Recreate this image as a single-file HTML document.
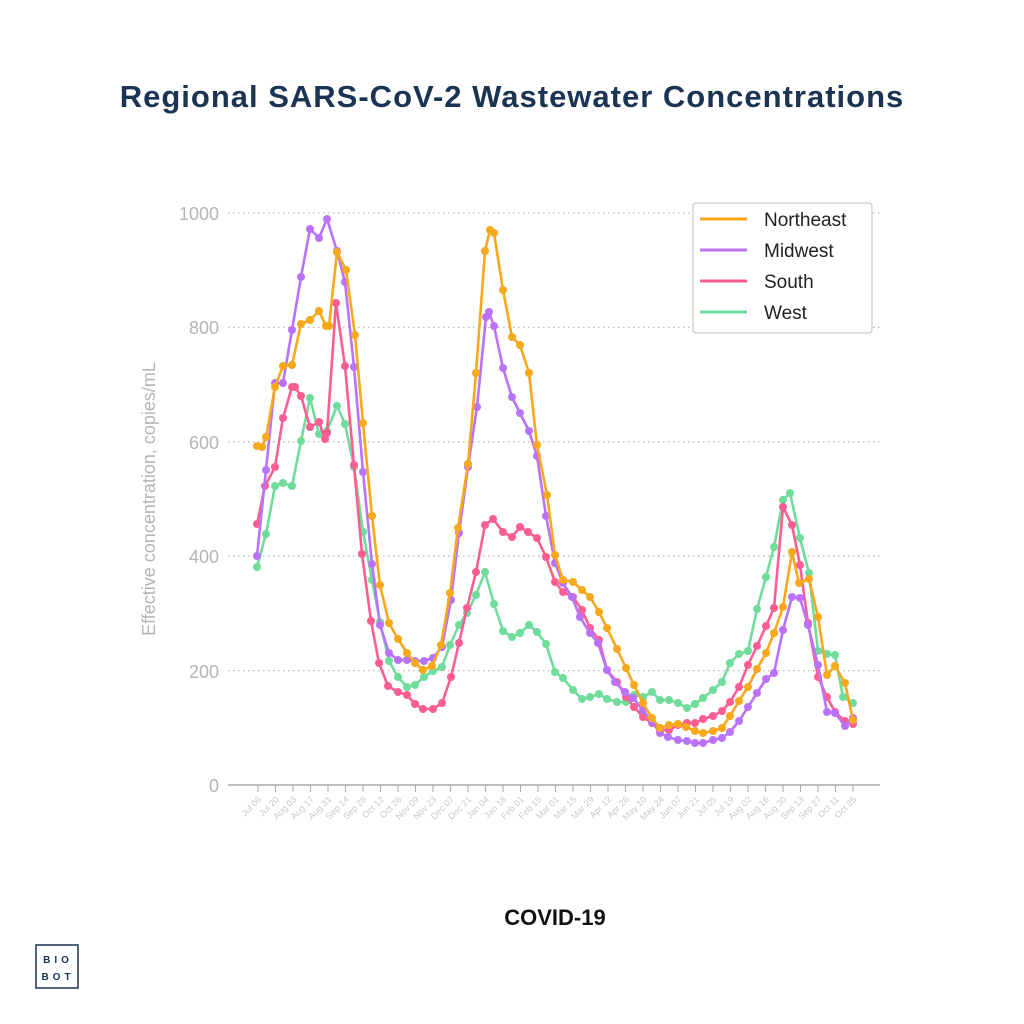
<!DOCTYPE html>
<html><head><meta charset="utf-8"><style>
html,body{margin:0;padding:0;background:#fff;width:1024px;height:1024px;overflow:hidden}
svg text{font-family:"Liberation Sans",sans-serif}
</style></head><body>
<svg id="s" width="1024" height="1024" viewBox="0 0 1024 1024" xmlns="http://www.w3.org/2000/svg">
<text x="512" y="107" text-anchor="middle" font-size="31" font-weight="bold" letter-spacing="1" fill="#1b3453">Regional SARS-CoV-2 Wastewater Concentrations</text>
<g stroke="#bbb" stroke-width="1.3" stroke-dasharray="1.5,3.5">
<line x1="228" y1="213" x2="880" y2="213"/><line x1="228" y1="327.4" x2="880" y2="327.4"/>
<line x1="228" y1="441.8" x2="880" y2="441.8"/><line x1="228" y1="556.2" x2="880" y2="556.2"/>
<line x1="228" y1="670.6" x2="880" y2="670.6"/>
</g>
<line x1="228" y1="785" x2="880" y2="785" stroke="#aaa" stroke-width="1.5"/>
<g font-size="18" fill="#b5b5b5" text-anchor="end">
<text x="219" y="220">1000</text><text x="219" y="334">800</text><text x="219" y="449">600</text>
<text x="219" y="563">400</text><text x="219" y="678">200</text><text x="219" y="792">0</text>
</g>
<text transform="translate(155,499) rotate(-90)" text-anchor="middle" font-size="18" fill="#b5b5b5">Effective concentration, copies/mL</text>
<g id="ticks"></g>
<g id="series"></g>
<rect x="693" y="203" width="179" height="130" rx="3" fill="#fff" stroke="#ccc" stroke-width="1.3"/>
<g stroke-width="3">
<line x1="700" y1="219" x2="747" y2="219" stroke="#f7a81b"/>
<line x1="700" y1="250" x2="747" y2="250" stroke="#b973fb"/>
<line x1="700" y1="281" x2="747" y2="281" stroke="#fd5e92"/>
<line x1="700" y1="312" x2="747" y2="312" stroke="#6fdc9b"/>
</g>
<g font-size="19" fill="#222">
<text x="764" y="226">Northeast</text><text x="764" y="257">Midwest</text>
<text x="764" y="288">South</text><text x="764" y="319">West</text>
</g>
<text x="555" y="925" text-anchor="middle" font-size="22" font-weight="bold" fill="#111">COVID-19</text>
<rect x="36" y="945" width="42" height="43" fill="none" stroke="#1b3453" stroke-width="1.5"/>
<text x="58" y="963" text-anchor="middle" font-size="10" font-weight="bold" fill="#1b3453" letter-spacing="4">BIO</text>
<text x="58" y="980" text-anchor="middle" font-size="10" font-weight="bold" fill="#1b3453" letter-spacing="4">BOT</text>
</svg>
<script>
var labels=["Jul 06","Jul 20","Aug 03","Aug 17","Aug 31","Sep 14","Sep 28","Oct 12","Oct 26","Nov 09","Nov 23","Dec 07","Dec 21","Jan 04","Jan 18","Feb 01","Feb 15","Mar 01","Mar 15","Mar 29","Apr 12","Apr 26","May 10","May 24","Jun 07","Jun 21","Jul 05","Jul 19","Aug 02","Aug 16","Aug 30","Sep 13","Sep 27","Oct 11","Oct 25"];
var tg=document.getElementById("ticks"),h="";
labels.forEach(function(l,i){var x=258+i*17.5;
h+='<line x1="'+x+'" y1="785" x2="'+x+'" y2="792" stroke="#aaa" stroke-width="1"/>';
h+='<text transform="translate('+(x+4)+',800) rotate(-45)" text-anchor="end" font-size="9" fill="#c8c8c8">'+l+'</text>';});
tg.innerHTML=h;
var S={
"#f7a81b":[[257,446],[262,447],[266,437],[275,387],[283,366],[292,365],[301,324],[310,320],[319,311],[326,326],[329,326],[337,252],[346,270],[355,335],[363,423],[372,516],[380,585],[389,623],[398,639],[407,653],[415,663],[423,670],[432,666],[441,645],[450,593],[458,528],[468,464],[476,373],[485,251],[490,230],[494,233],[503,290],[512,337],[520,345],[529,373],[537,445],[547,495],[555,555],[563,580],[573,582],[582,590],[590,597],[599,612],[607,628],[617,649],[626,668],[634,685],[643,703],[652,718],[660,728],[669,725],[678,724],[686,727],[695,731],[703,733],[713,731],[722,728],[730,716],[739,701],[748,687],[757,669],[766,653],[774,633],[783,607],[792,552],[799,583],[809,579],[818,617],[827,675],[835,666],[845,683],[853,720]],
"#b973fb":[[257,556],[266,470],[275,383],[283,383],[292,330],[301,277],[310,229],[319,238],[327,219],[337,251],[345,282],[354,367],[363,472],[372,564],[380,625],[389,653],[398,660],[407,660],[415,661],[424,661],[433,658],[442,647],[451,600],[459,533],[468,467],[477,407],[486,317],[489,312],[494,326],[503,368],[512,397],[520,413],[529,431],[537,456],[546,516],[555,563],[563,583],[572,597],[580,617],[590,633],[598,643],[607,670],[615,682],[625,692],[633,698],[643,710],[652,722],[660,733],[668,737],[678,740],[687,741],[695,743],[703,743],[713,740],[722,738],[730,732],[739,721],[748,707],[757,693],[766,679],[774,673],[783,630],[792,597],[800,598],[808,625],[818,665],[827,712],[835,713],[845,726],[853,718]],
"#fd5e92":[[257,524],[265,486],[275,467],[283,418],[292,387],[295,387],[301,396],[310,427],[319,422],[325,439],[327,433],[336,303],[345,366],[354,465],[362,554],[371,621],[379,663],[388,686],[398,692],[407,695],[415,704],[423,709],[433,709],[442,703],[451,677],[459,643],[467,608],[476,572],[485,525],[493,519],[503,532],[512,537],[520,527],[528,532],[537,538],[546,557],[555,582],[563,592],[573,597],[582,610],[590,628],[599,640],[607,670],[617,682],[626,697],[634,707],[643,717],[652,723],[660,730],[669,730],[678,725],[687,723],[695,723],[703,719],[713,716],[722,711],[730,702],[739,687],[748,665],[757,646],[766,626],[774,608],[783,507],[792,525],[800,565],[808,623],[818,677],[827,697],[835,712],[845,721],[853,724]],
"#6fdc9b":[[257,567],[266,534],[275,486],[283,483],[292,486],[301,441],[310,398],[319,434],[327,431],[337,406],[345,424],[354,467],[363,532],[372,580],[380,622],[389,661],[398,677],[407,687],[415,685],[424,677],[433,671],[442,667],[450,645],[459,625],[467,613],[476,595],[485,572],[494,604],[503,631],[512,637],[520,633],[529,625],[537,632],[546,644],[555,672],[563,678],[573,690],[582,699],[590,697],[599,694],[607,699],[617,702],[626,702],[634,695],[643,697],[652,692],[660,700],[669,700],[678,703],[687,708],[695,704],[703,698],[713,690],[722,682],[730,663],[739,654],[748,651],[757,609],[766,577],[774,547],[783,500],[790,493],[800,538],[809,573],[818,651],[827,654],[835,655],[843,697],[853,703]]
};
var g="",order=["#6fdc9b","#fd5e92","#b973fb","#f7a81b"];
order.forEach(function(c){var p=S[c];
g+='<polyline fill="none" stroke="'+c+'" stroke-width="2.6" stroke-linejoin="round" points="'+p.map(function(q){return q.join(",")}).join(" ")+'"/>';
p.forEach(function(q){g+='<circle cx="'+q[0]+'" cy="'+q[1]+'" r="4" fill="'+c+'"/>';});});
document.getElementById("series").innerHTML=g;
</script>
</body></html>
